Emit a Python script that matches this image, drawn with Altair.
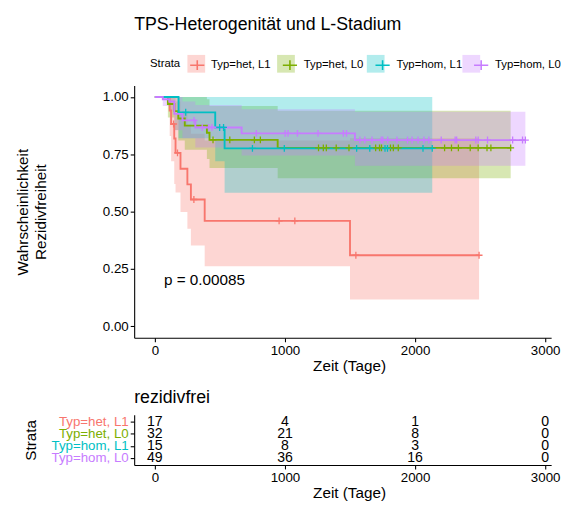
import altair as alt
import numpy as np
import pandas as pd

# ---------------- data ----------------
strata = ["Typ=het, L1", "Typ=het, L0", "Typ=hom, L1", "Typ=hom, L0"]
colors = ["#F8766D", "#7CAE00", "#00BFC4", "#C77CFF"]

# Typ=het, L1
t_het1 = [0, 114, 125, 149, 159, 197, 250, 277, 383, 1500]
s_het1 = [1.0, 0.941, 0.882, 0.819, 0.756, 0.687, 0.619, 0.553, 0.46, 0.31]
lo_het1 = [1.0, 0.83, 0.72, 0.62, 0.584, 0.498, 0.425, 0.352, 0.262, 0.117]
up_het1 = [1.0, 1.0, 1.0, 1.0, 0.98, 0.93, 0.88, 0.84, 0.81, 0.82]
c_het1 = [144, 174, 300, 955, 1076, 1545, 2492]
end_het1 = 2492

# Typ=het, L0
t_het0 = [0, 100, 150, 180, 230, 400, 420, 944]
s_het0 = [1.0, 0.969, 0.938, 0.906, 0.875, 0.844, 0.813, 0.778]
lo_het0 = [1.0, 0.91, 0.856, 0.81, 0.77, 0.73, 0.69, 0.646]
up_het0 = [1.0, 1.0, 1.0, 1.0, 1.0, 0.99, 0.96, 0.94]
c_het0 = [447, 576, 765, 811, 1258, 1295, 1318, 1394, 1492, 1697, 1727, 1742,
          1811, 1833, 1871, 2227, 2280, 2333, 2424, 2485, 2553, 2583, 2735]
end_het0 = 2735

# Typ=hom, L1
t_hom1 = [0, 182, 464, 536]
s_hom1 = [1.0, 0.933, 0.867, 0.776]
lo_hom1 = [1.0, 0.82, 0.72, 0.582]
up_hom1 = [1.0, 1.0, 1.0, 1.0]
c_hom1 = [237, 498, 528, 750, 995, 1551, 1652, 1769, 1788, 2061, 2132]
end_hom1 = 2132

# Typ=hom, L0
t_hom0 = [0, 61, 111, 149, 212, 311, 667, 1538]
s_hom0 = [1.0, 0.99, 0.98, 0.926, 0.898, 0.867, 0.841, 0.812]
lo_hom0 = [1.0, 0.96, 0.94, 0.855, 0.82, 0.78, 0.745, 0.70]
up_hom0 = [1.0, 1.0, 1.0, 1.0, 0.98, 0.965, 0.946, 0.935]
c_hom0 = [301, 364, 414, 439, 780, 1002, 1023, 1096, 1254, 1449, 1473, 1576,
          1614, 1669, 1740, 1752, 1790, 1861, 1942, 1977, 2023, 2068, 2106,
          2201, 2308, 2320, 2467, 2485, 2557, 2750, 2826, 2848]
end_hom0 = 2848

# risk table
risk_times = [0, 1000, 2000, 3000]
risk_het1 = [17, 4, 1, 0]
risk_het0 = [32, 21, 8, 0]
risk_hom1 = [15, 8, 3, 0]
risk_hom0 = [49, 36, 16, 0]

pval_label = "p = 0.00085"
pval_x = 70
pval_y = 0.2

# ---------------- build tables ----------------
groups = [
    (strata[0], t_het1, s_het1, lo_het1, up_het1, c_het1, end_het1),
    (strata[1], t_het0, s_het0, lo_het0, up_het0, c_het0, end_het0),
    (strata[2], t_hom1, s_hom1, lo_hom1, up_hom1, c_hom1, end_hom1),
    (strata[3], t_hom0, s_hom0, lo_hom0, up_hom0, c_hom0, end_hom0),
]
line_rows, band_rows, cens_rows = [], [], []
for name, t, s, lo, up, cens, end in groups:
    for ti, si, li, ui in zip(t + [end], s + [s[-1]], lo + [lo[-1]], up + [up[-1]]):
        line_rows.append({"strata": name, "time": ti, "y": si})
        band_rows.append({"strata_f": name, "time": ti, "y": ui, "y2": li})
    tt = np.array(t)
    for c in cens:
        idx = int(np.searchsorted(tt, c, side="right") - 1)
        cens_rows.append({"strata": name, "time": c, "y": s[idx]})
line_df = pd.DataFrame(line_rows)
band_df = pd.DataFrame(band_rows)
cens_df = pd.DataFrame(cens_rows)
pval_df = pd.DataFrame({"time": [pval_x], "y": [pval_y], "label": [pval_label]})

risk_rows = []
for name, vals in zip(strata, [risk_het1, risk_het0, risk_hom1, risk_hom0]):
    for tm, v in zip(risk_times, vals):
        risk_rows.append({"strata": name, "time": tm, "n": v})
risk_df = pd.DataFrame(risk_rows)

# ---------------- chart ----------------
FONT = "Liberation Sans"
W = 423
x_scale = alt.Scale(domain=[-159, 3046], nice=False, zero=False)
y_scale = alt.Scale(domain=[-0.05, 1.05], nice=False, zero=False)
x_axis = alt.Axis(values=risk_times, format="d", title="Zeit (Tage)", labelPadding=2,
                  titlePadding=2, titleX=218)
y_axis = alt.Axis(values=[0, 0.25, 0.5, 0.75, 1.0], format=".2f",
                  title=["Wahrscheinlichkeit", "Rezidivfreiheit"],
                  labelPadding=2, titlePadding=55, titleLineHeight=18)

cross = "M-1,0L1,0M0,-1L0,1"
key_cross = "M-0.8,0L0.8,0M0,-0.55L0,0.55"

common_leg = dict(orient="none", legendX=16, legendY=-31, direction="horizontal",
                  title="Strata", titleOrient="left", titleAnchor="middle",
                  titleBaseline="middle", titleFontSize=11.5, titleFontWeight="normal",
                  titleFont=FONT, titleColor="black", titlePadding=7,
                  labelFontSize=11.5, labelFont=FONT, labelColor="black",
                  labelOffset=4, columnPadding=8, symbolSize=324)
fill_leg = alt.Legend(symbolType="square", symbolOpacity=0.3, symbolStrokeWidth=0,
                      labelOpacity=0, titleOpacity=0, zindex=0, **common_leg)
stroke_leg = alt.Legend(symbolType=key_cross, symbolStrokeWidth=1.6, zindex=1,
                        **common_leg)

# fill domain derived from the data in the given order (kept separate from stroke legend)
fill_enc = alt.Fill("strata_f:N", sort=strata, scale=alt.Scale(range=colors),
                    legend=fill_leg)
stroke_enc = alt.Stroke("strata:N", scale=alt.Scale(domain=strata, range=colors),
                        legend=stroke_leg)

X = alt.X("time:Q", scale=x_scale, axis=x_axis)
Y = alt.Y("y:Q", scale=y_scale, axis=y_axis)

area = alt.Chart(band_df).mark_area(interpolate="step-after", opacity=0.3).encode(
    x=X, y=Y, y2="y2:Q", fill=fill_enc)
line = alt.Chart(line_df).mark_line(interpolate="step-after", strokeWidth=1.9).encode(
    x=X, y=Y, stroke=stroke_enc)
pts = alt.Chart(cens_df).mark_point(shape=cross, filled=False, size=49,
                                    strokeWidth=1.3, opacity=1).encode(
    x=X, y=Y, stroke=stroke_enc)
ptxt = alt.Chart(pval_df).mark_text(align="left", baseline="middle", fontSize=15.5,
                                    font=FONT, color="black").encode(
    x=X, y=Y, text="label:N")

top = alt.layer(area, line, pts, ptxt).properties(
    width=W, height=256,
    title=alt.TitleParams("TPS-Heterogenität und L-Stadium", anchor="start",
                          frame="group", fontSize=18, fontWeight="normal",
                          font=FONT, color="black", offset=52))

label_cond = {"condition": [{"test": f"datum.value === '{s}'", "value": c}
                            for s, c in zip(strata, colors)],
              "value": "black"}

risk = alt.Chart(risk_df).mark_text(fontSize=14.3, font=FONT, color="black",
                                    baseline="middle", align="center").encode(
    x=alt.X("time:Q", scale=x_scale, axis=x_axis),
    y=alt.Y("strata:N", sort=strata, scale=alt.Scale(type="point", padding=0.6),
            axis=alt.Axis(title="Strata", labelColor=label_cond, labelPadding=2,
                          titlePadding=13)),
    text="n:Q").properties(
    width=W, height=51,
    title=alt.TitleParams("rezidivfrei", anchor="start", frame="group", fontSize=18,
                          fontWeight="normal", font=FONT, color="black", offset=8))

chart = alt.vconcat(top, risk, spacing=78, bounds="flush").configure(
    font=FONT, padding={"left": 7, "top": 5, "right": 0, "bottom": 0}
).configure_view(stroke=None).configure_axis(
    domainColor="black", domainWidth=1.1, tickColor="black", tickWidth=1.1,
    tickSize=4, labelColor="black", titleColor="black", labelFontSize=13.5,
    titleFontSize=15.5, titleFontWeight="normal", grid=False,
    labelFont=FONT, titleFont=FONT)

chart.save("out.html", embed_options={"renderer": "svg", "actions": False})
